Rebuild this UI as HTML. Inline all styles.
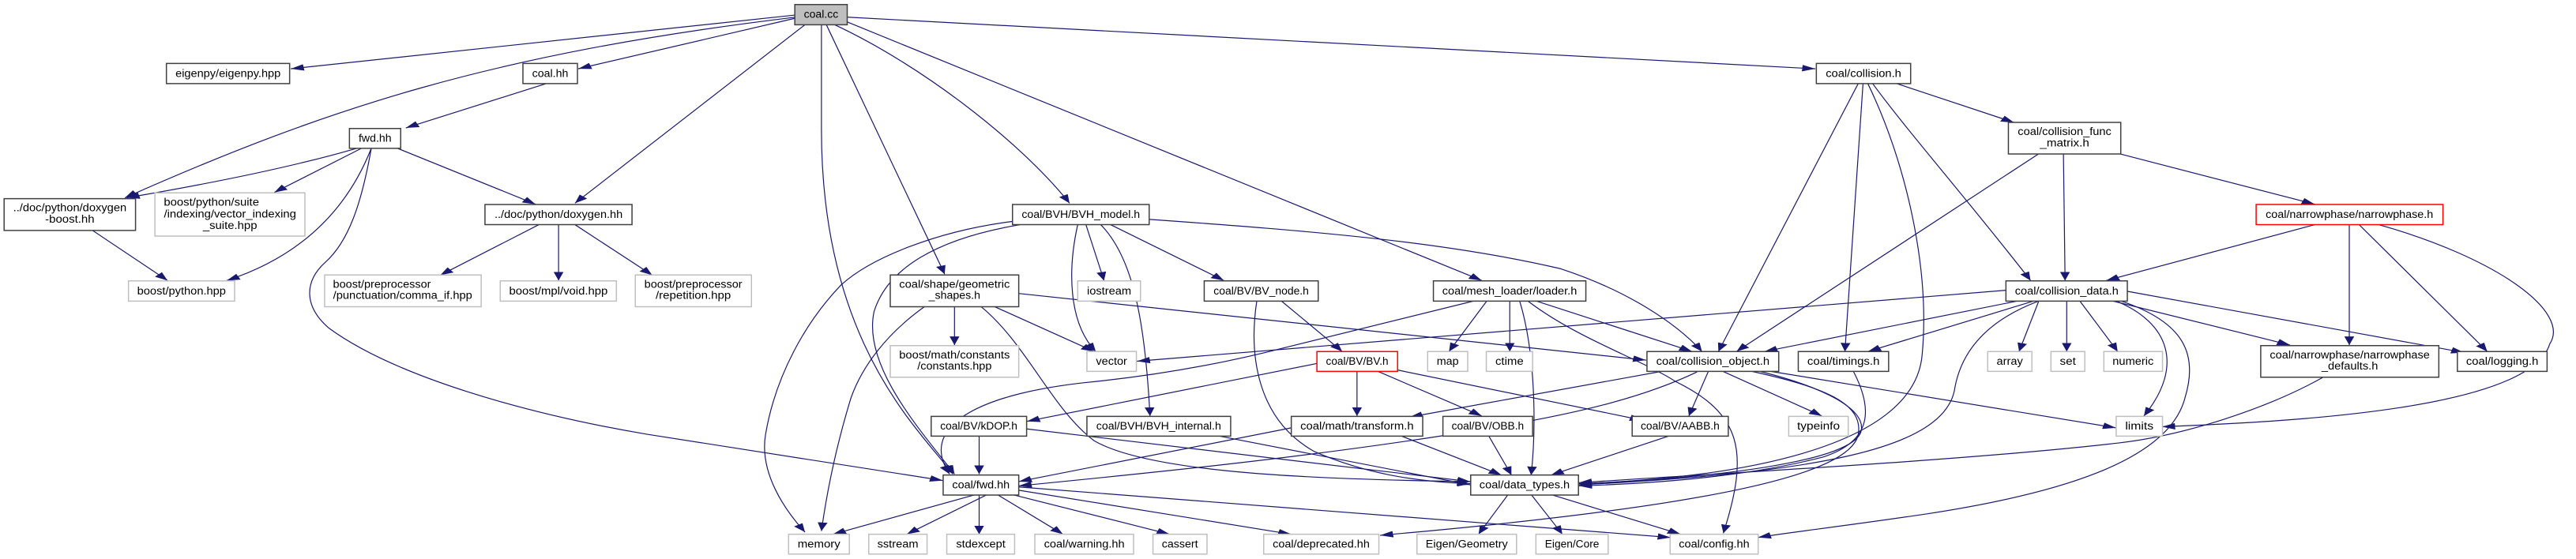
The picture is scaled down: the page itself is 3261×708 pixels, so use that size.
<!DOCTYPE html>
<html><head><meta charset="utf-8"><style>
html,body{margin:0;padding:0;background:#fff;}
svg{display:block;}
text{font-family:"Liberation Sans","DejaVu Sans",sans-serif;font-size:10px;fill:#000;}
rect{vector-effect:non-scaling-stroke;}
.n{fill:#fff;stroke:#404040;stroke-width:1.5;}
.g{fill:#fff;stroke:#bfbfbf;stroke-width:1.5;}
.r{fill:#fff;stroke:#ff0000;stroke-width:1.5;}
.e path{fill:none;stroke:#191970;stroke-width:1.2;vector-effect:non-scaling-stroke;}
</style></head><body>
<svg width="3261" height="708" viewBox="0 0 1568 520" preserveAspectRatio="none" xmlns="http://www.w3.org/2000/svg">
<defs><marker id="a" markerUnits="userSpaceOnUse" markerWidth="8" markerHeight="6" refX="8" refY="3" orient="auto"><path d="M0,0 L8,3 L0,6 z" fill="#191970" stroke="none"/></marker></defs>
<g class="e">
<path marker-end="url(#a)" d="M484,14 L177,64"/>
<path marker-end="url(#a)" d="M484,17 L352,64"/>
<path marker-end="url(#a)" d="M484,16 C300,50 200,100 76,184"/>
<path marker-end="url(#a)" d="M490,23 L350,189"/>
<path marker-end="url(#a)" d="M500,23 L500,120 C500,320 560,400 580,441"/>
<path marker-end="url(#a)" d="M503,23 L575,255"/>
<path marker-end="url(#a)" d="M508,23 C560,60 620,130 651,189"/>
<path marker-end="url(#a)" d="M515,20 L902,261"/>
<path marker-end="url(#a)" d="M516,16 L1105,64"/>
<path marker-end="url(#a)" d="M332,78 L247,119"/>
<path marker-end="url(#a)" d="M217,138 C190,150 150,165 77,184"/>
<path marker-end="url(#a)" d="M220,138 L167,179"/>
<path marker-end="url(#a)" d="M226,138 C210,200 180,240 138,261"/>
<path marker-end="url(#a)" d="M226,138 C220,190 212,225 198,244 C185,262 185,285 200,305 C240,350 320,385 394,404 L574,447"/>
<path marker-end="url(#a)" d="M242,138 L326,190"/>
<path marker-end="url(#a)" d="M56,214 L102,261"/>
<path marker-end="url(#a)" d="M328,209 L268,256"/>
<path marker-end="url(#a)" d="M340,209 L340,261"/>
<path marker-end="url(#a)" d="M350,209 L397,256"/>
<path marker-end="url(#a)" d="M616,206 C570,215 530,240 512,265 C490,300 472,350 466,404 C462,440 478,475 490,495"/>
<path marker-end="url(#a)" d="M563,285 C540,310 525,340 518,370 C510,410 504,450 500,494"/>
<path marker-end="url(#a)" d="M621,209 C570,222 540,250 532,290 C525,340 560,400 581,441"/>
<path marker-end="url(#a)" d="M656,209 C650,250 650,300 667,327"/>
<path marker-end="url(#a)" d="M661,209 L672,261"/>
<path marker-end="url(#a)" d="M670,209 C690,240 697,300 700,387"/>
<path marker-end="url(#a)" d="M676,209 L745,261"/>
<path marker-end="url(#a)" d="M699,204 C800,215 880,225 950,250 C990,270 1020,300 1036,327"/>
<path marker-end="url(#a)" d="M581,285 L581,321"/>
<path marker-end="url(#a)" d="M605,285 L666,327"/>
<path marker-end="url(#a)" d="M597,285 C625,320 640,380 666,410 C700,440 800,446 895,448"/>
<path marker-end="url(#a)" d="M620,273 L1002,335"/>
<path marker-end="url(#a)" d="M905,280 L882,327"/>
<path marker-end="url(#a)" d="M919,280 L919,327"/>
<path marker-end="url(#a)" d="M935,280 L1030,327"/>
<path marker-end="url(#a)" d="M925,280 C935,330 935,400 932,442"/>
<path marker-end="url(#a)" d="M930,280 C960,315 1000,335 1020,355 C1060,385 1065,420 1049,496"/>
<path marker-end="url(#a)" d="M897,280 L783,323 C740,340 700,350 660,356 C590,368 560,400 578,441"/>
<path marker-end="url(#a)" d="M780,280 L817,327"/>
<path marker-end="url(#a)" d="M765,280 C760,330 765,390 800,420 C830,440 860,448 895,450"/>
<path marker-end="url(#a)" d="M826,345 L826,387"/>
<path marker-end="url(#a)" d="M838,345 L902,387"/>
<path marker-end="url(#a)" d="M850,344 L1000,391"/>
<path marker-end="url(#a)" d="M802,338 L625,392"/>
<path marker-end="url(#a)" d="M786,398 L620,448"/>
<path marker-end="url(#a)" d="M852,405 L914,442"/>
<path marker-end="url(#a)" d="M596,405 L596,441"/>
<path marker-end="url(#a)" d="M625,399 L895,448"/>
<path marker-end="url(#a)" d="M740,405 L895,451"/>
<path marker-end="url(#a)" d="M906,405 L920,442"/>
<path marker-end="url(#a)" d="M1017,405 L944,442"/>
<path marker-end="url(#a)" d="M1013,345 L858,388"/>
<path marker-end="url(#a)" d="M1033,346 C1000,370 960,385 900,400 C800,425 700,440 620,452"/>
<path marker-end="url(#a)" d="M1040,345 L1028,387"/>
<path marker-end="url(#a)" d="M1048,345 L1109,387"/>
<path marker-end="url(#a)" d="M1070,345 C1110,360 1135,380 1133,400 C1130,430 1040,445 961,450"/>
<path marker-end="url(#a)" d="M1065,345 C1110,360 1135,375 1131,405 C1125,440 1050,470 840,498"/>
<path marker-end="url(#a)" d="M1076,345 L1288,398"/>
<path marker-end="url(#a)" d="M1128,345 C1140,380 1140,410 1110,425 C1060,445 1000,450 961,452"/>
<path marker-end="url(#a)" d="M918,460 L900,497"/>
<path marker-end="url(#a)" d="M932,460 L951,497"/>
<path marker-end="url(#a)" d="M944,460 L1023,497"/>
<path marker-end="url(#a)" d="M594,460 L507,497"/>
<path marker-end="url(#a)" d="M601,460 L552,497"/>
<path marker-end="url(#a)" d="M596,460 L596,497"/>
<path marker-end="url(#a)" d="M607,460 L647,497"/>
<path marker-end="url(#a)" d="M616,460 L712,497"/>
<path marker-end="url(#a)" d="M620,456 L786,497"/>
<path marker-end="url(#a)" d="M620,453 L1017,500"/>
<path marker-end="url(#a)" d="M1131,78 L1046,327"/>
<path marker-end="url(#a)" d="M1134,78 L1123,327"/>
<path marker-end="url(#a)" d="M1140,78 C1160,120 1200,190 1236,261"/>
<path marker-end="url(#a)" d="M1155,78 L1226,114"/>
<path marker-end="url(#a)" d="M1137,78 C1160,150 1175,250 1170,330 C1165,420 1050,445 961,450"/>
<path marker-end="url(#a)" d="M1256,143 L1257,261"/>
<path marker-end="url(#a)" d="M1241,143 L1057,327"/>
<path marker-end="url(#a)" d="M1290,143 L1409,190"/>
<path marker-end="url(#a)" d="M1409,209 L1282,261"/>
<path marker-end="url(#a)" d="M1430,209 L1430,321"/>
<path marker-end="url(#a)" d="M1436,209 L1514,327"/>
<path marker-end="url(#a)" d="M1448,209 C1520,240 1565,290 1552,320 C1540,380 1400,392 1316,397"/>
<path marker-end="url(#a)" d="M1221,270 L692,336"/>
<path marker-end="url(#a)" d="M1228,280 L1074,327"/>
<path marker-end="url(#a)" d="M1238,280 L1137,327"/>
<path marker-end="url(#a)" d="M1241,280 L1229,327"/>
<path marker-end="url(#a)" d="M1258,280 L1258,327"/>
<path marker-end="url(#a)" d="M1266,280 L1289,327"/>
<path marker-end="url(#a)" d="M1286,280 L1394,321"/>
<path marker-end="url(#a)" d="M1295,271 L1500,328"/>
<path marker-end="url(#a)" d="M1288,280 C1320,300 1330,340 1305,387"/>
<path marker-end="url(#a)" d="M1241,280 C1215,295 1195,320 1190,360 C1185,420 1100,440 961,451"/>
<path marker-end="url(#a)" d="M1291,280 C1330,300 1338,330 1330,370 C1320,430 1250,460 1173,478 C1120,490 1090,495 1070,500"/>
<path marker-end="url(#a)" d="M1414,351 C1380,380 1330,405 1290,412 C1200,428 1050,440 961,449"/>
</g>
<g text-anchor="middle">
<rect x="483.8" y="4.2" width="31.9" height="18.8" fill="#bfbfbf" stroke="#404040" stroke-width="1.5"/><text x="499.8" y="16.7" textLength="21" lengthAdjust="spacingAndGlyphs">coal.cc</text>
<rect class="n" x="101.3" y="59" width="75" height="18.8"/><text x="138.8" y="71.5" textLength="64" lengthAdjust="spacingAndGlyphs">eigenpy/eigenpy.hpp</text>
<rect class="n" x="318.3" y="59" width="33.2" height="18.8"/><text x="334.9" y="71.5" textLength="22" lengthAdjust="spacingAndGlyphs">coal.hh</text>
<rect class="n" x="1105.6" y="59" width="57.4" height="18.8"/><text x="1134.3" y="71.5" textLength="46" lengthAdjust="spacingAndGlyphs">coal/collision.h</text>
<rect class="n" x="212.7" y="119.5" width="31.2" height="18.5"/><text x="228.3" y="132" textLength="20" lengthAdjust="spacingAndGlyphs">fwd.hh</text>
<rect class="n" x="1222.5" y="113.8" width="68.4" height="29.4"/><text x="1256.7" y="125.6" textLength="57" lengthAdjust="spacingAndGlyphs">coal/collision_func</text><text x="1256.7" y="136.1" textLength="30" lengthAdjust="spacingAndGlyphs">_matrix.h</text>
<rect class="n" x="2.5" y="184.8" width="80" height="29.6"/><text x="42.5" y="196.6" textLength="69" lengthAdjust="spacingAndGlyphs">../doc/python/doxygen</text><text x="42.5" y="207.1" textLength="30" lengthAdjust="spacingAndGlyphs">-boost.hh</text>
<rect class="g" x="94.3" y="179.4" width="91.3" height="40.2"/><text x="128.7" y="191.4" textLength="58" lengthAdjust="spacingAndGlyphs">boost/python/suite</text><text x="140" y="202.2" textLength="80.5" lengthAdjust="spacingAndGlyphs">/indexing/vector_indexing</text><text x="140" y="213" textLength="33" lengthAdjust="spacingAndGlyphs">_suite.hpp</text>
<rect class="n" x="295.2" y="190.2" width="89.5" height="18.8"/><text x="340" y="202.7" textLength="78" lengthAdjust="spacingAndGlyphs">../doc/python/doxygen.hh</text>
<rect class="n" x="616.3" y="190.2" width="83.2" height="18.8"/><text x="657.9" y="202.7" textLength="72" lengthAdjust="spacingAndGlyphs">coal/BVH/BVH_model.h</text>
<rect class="r" x="1373.3" y="190.2" width="113.7" height="18.8"/><text x="1430.1" y="202.7" textLength="102" lengthAdjust="spacingAndGlyphs">coal/narrowphase/narrowphase.h</text>
<rect class="g" x="78.2" y="261.3" width="64.6" height="18.8"/><text x="110.5" y="273.8" textLength="54" lengthAdjust="spacingAndGlyphs">boost/python.hpp</text>
<rect class="g" x="197.6" y="255.8" width="95.3" height="29.5"/><text x="232.5" y="267.6" textLength="59.6" lengthAdjust="spacingAndGlyphs">boost/preprocessor</text><text x="245.1" y="278.1" textLength="84.7" lengthAdjust="spacingAndGlyphs">/punctuation/comma_if.hpp</text>
<rect class="g" x="304.5" y="261.3" width="70.7" height="18.8"/><text x="339.9" y="273.8" textLength="60" lengthAdjust="spacingAndGlyphs">boost/mpl/void.hpp</text>
<rect class="g" x="386.7" y="255.8" width="70.7" height="29.5"/><text x="422" y="267.6" textLength="59.6" lengthAdjust="spacingAndGlyphs">boost/preprocessor</text><text x="422" y="278.1" textLength="45.8" lengthAdjust="spacingAndGlyphs">/repetition.hpp</text>
<rect class="n" x="541.9" y="255.8" width="78.2" height="29.5"/><text x="581" y="267.6" textLength="67.4" lengthAdjust="spacingAndGlyphs">coal/shape/geometric</text><text x="581" y="278.1" textLength="31.4" lengthAdjust="spacingAndGlyphs">_shapes.h</text>
<rect class="g" x="656" y="261.3" width="38.2" height="18.8"/><text x="675.1" y="273.8" textLength="27" lengthAdjust="spacingAndGlyphs">iostream</text>
<rect class="n" x="733" y="261.3" width="69.4" height="18.8"/><text x="767.7" y="273.8" textLength="58" lengthAdjust="spacingAndGlyphs">coal/BV/BV_node.h</text>
<rect class="n" x="872.5" y="261.3" width="92.8" height="18.8"/><text x="918.9" y="273.8" textLength="82" lengthAdjust="spacingAndGlyphs">coal/mesh_loader/loader.h</text>
<rect class="n" x="1221" y="261.3" width="73.9" height="18.8"/><text x="1258" y="273.8" textLength="63" lengthAdjust="spacingAndGlyphs">coal/collision_data.h</text>
<rect class="g" x="541.9" y="321.5" width="78.2" height="29.4"/><text x="581" y="333.3" textLength="67.4" lengthAdjust="spacingAndGlyphs">boost/math/constants</text><text x="581" y="343.8" textLength="45.3" lengthAdjust="spacingAndGlyphs">/constants.hpp</text>
<rect class="n" x="1376.1" y="321.5" width="108.4" height="29.4"/><text x="1430.3" y="333.3" textLength="97.3" lengthAdjust="spacingAndGlyphs">coal/narrowphase/narrowphase</text><text x="1430.3" y="343.8" textLength="34.4" lengthAdjust="spacingAndGlyphs">_defaults.h</text>
<rect class="g" x="661.6" y="326.9" width="30.1" height="18.6"/><text x="676.6" y="339.4" textLength="19" lengthAdjust="spacingAndGlyphs">vector</text>
<rect class="r" x="801.6" y="327" width="49.1" height="18.5"/><text x="826.1" y="339.4" textLength="38" lengthAdjust="spacingAndGlyphs">coal/BV/BV.h</text>
<rect class="g" x="869" y="327" width="24.4" height="18.5"/><text x="881.2" y="339.4" textLength="13.4" lengthAdjust="spacingAndGlyphs">map</text>
<rect class="g" x="904.7" y="327" width="28.2" height="18.5"/><text x="918.8" y="339.4" textLength="17.2" lengthAdjust="spacingAndGlyphs">ctime</text>
<rect class="n" x="1002.5" y="327" width="80.2" height="18.5"/><text x="1042.6" y="339.4" textLength="69" lengthAdjust="spacingAndGlyphs">coal/collision_object.h</text>
<rect class="n" x="1094.6" y="327" width="55" height="18.5"/><text x="1122.1" y="339.4" textLength="44" lengthAdjust="spacingAndGlyphs">coal/timings.h</text>
<rect class="g" x="1209.9" y="327" width="26.9" height="18.5"/><text x="1223.3" y="339.4" textLength="16" lengthAdjust="spacingAndGlyphs">array</text>
<rect class="g" x="1248.4" y="327" width="20.6" height="18.5"/><text x="1258.7" y="339.4" textLength="9.8" lengthAdjust="spacingAndGlyphs">set</text>
<rect class="g" x="1280.6" y="327" width="35.7" height="18.5"/><text x="1298.4" y="339.4" textLength="25" lengthAdjust="spacingAndGlyphs">numeric</text>
<rect class="n" x="1495.8" y="327" width="54.6" height="18.5"/><text x="1523.1" y="339.4" textLength="44" lengthAdjust="spacingAndGlyphs">coal/logging.h</text>
<rect class="n" x="566.8" y="387.3" width="58.1" height="18.4"/><text x="595.8" y="399.7" textLength="47" lengthAdjust="spacingAndGlyphs">coal/BV/kDOP.h</text>
<rect class="n" x="661.6" y="387.3" width="87.5" height="18.4"/><text x="705.3" y="399.7" textLength="76" lengthAdjust="spacingAndGlyphs">coal/BVH/BVH_internal.h</text>
<rect class="n" x="786" y="387.3" width="80" height="18.4"/><text x="826" y="399.7" textLength="69" lengthAdjust="spacingAndGlyphs">coal/math/transform.h</text>
<rect class="n" x="878.3" y="387.3" width="54.6" height="18.4"/><text x="905.6" y="399.7" textLength="44" lengthAdjust="spacingAndGlyphs">coal/BV/OBB.h</text>
<rect class="n" x="993.5" y="387.3" width="58.5" height="18.4"/><text x="1022.7" y="399.7" textLength="48" lengthAdjust="spacingAndGlyphs">coal/BV/AABB.h</text>
<rect class="g" x="1088.8" y="387.3" width="36.2" height="18.4"/><text x="1106.9" y="399.7" textLength="26" lengthAdjust="spacingAndGlyphs">typeinfo</text>
<rect class="g" x="1288.1" y="387.3" width="28.2" height="18.4"/><text x="1302.2" y="399.7" textLength="17.2" lengthAdjust="spacingAndGlyphs">limits</text>
<rect class="n" x="574.1" y="441.9" width="46" height="18.6"/><text x="597.1" y="454.4" textLength="35" lengthAdjust="spacingAndGlyphs">coal/fwd.hh</text>
<rect class="n" x="895.2" y="441.9" width="65.6" height="18.6"/><text x="928" y="454.4" textLength="55" lengthAdjust="spacingAndGlyphs">coal/data_types.h</text>
<rect class="g" x="480" y="497" width="37" height="18.4"/><text x="498.5" y="509.4" textLength="26" lengthAdjust="spacingAndGlyphs">memory</text>
<rect class="g" x="528.8" y="497" width="35.5" height="18.4"/><text x="546.5" y="509.4" textLength="25" lengthAdjust="spacingAndGlyphs">sstream</text>
<rect class="g" x="576.3" y="497" width="41.3" height="18.4"/><text x="597" y="509.4" textLength="30" lengthAdjust="spacingAndGlyphs">stdexcept</text>
<rect class="g" x="629.9" y="497" width="60.1" height="18.4"/><text x="660" y="509.4" textLength="49" lengthAdjust="spacingAndGlyphs">coal/warning.hh</text>
<rect class="g" x="701.8" y="497" width="32.9" height="18.4"/><text x="718.2" y="509.4" textLength="22" lengthAdjust="spacingAndGlyphs">cassert</text>
<rect class="g" x="769.2" y="497" width="70.1" height="18.4"/><text x="804.2" y="509.4" textLength="59" lengthAdjust="spacingAndGlyphs">coal/deprecated.hh</text>
<rect class="g" x="862.5" y="497" width="60.6" height="18.4"/><text x="892.8" y="509.4" textLength="50" lengthAdjust="spacingAndGlyphs">Eigen/Geometry</text>
<rect class="g" x="934.9" y="497" width="44" height="18.4"/><text x="956.9" y="509.4" textLength="33" lengthAdjust="spacingAndGlyphs">Eigen/Core</text>
<rect class="g" x="1016.6" y="497" width="53.6" height="18.4"/><text x="1043.4" y="509.4" textLength="43" lengthAdjust="spacingAndGlyphs">coal/config.hh</text>
</g>
</svg>
</body></html>
